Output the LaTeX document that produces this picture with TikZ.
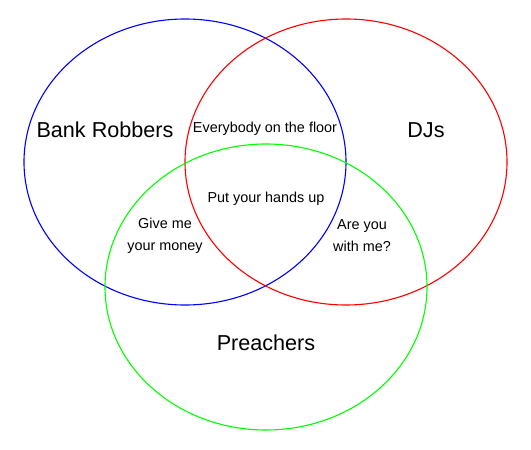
\documentclass[tikz,border=0pt]{standalone}
\usepackage{fontspec}
\setmainfont{Liberation Sans}
\begin{document}
\begin{tikzpicture}[x=1pt,y=-1pt,
  ring/.style={line width=1.1pt},
  biglabel/.style={font=\fontsize{21.6}{26}\selectfont, inner sep=0pt, anchor=center},
  smalllabel/.style={font=\fontsize{14.4}{22}\selectfont, inner sep=0pt, anchor=center, align=center}]
  \useasboundingbox (0,0) rectangle (531,450);
  % the three sets
  \draw[ring, blue] (185,162) ellipse [x radius=161, y radius=143];
  \draw[ring, red] (346,162) ellipse [x radius=161, y radius=143];
  \draw[ring, green] (266,287) ellipse [x radius=161, y radius=143];
  % set names
  \node[biglabel] (robbers) at (105,130) {Bank Robbers};
  \node[biglabel] (djs) at (426,130) {DJs};
  \node[biglabel] (preachers) at (266,343) {Preachers};
  % overlaps
  \node[smalllabel] (floor) at (265,129) {Everybody on the floor};
  \node[smalllabel] (hands) at (266,199) {Put your hands up};
  \node[smalllabel] (money) at (165,236) {Give me\\your money};
  \node[smalllabel] (withme) at (362,236) {Are you\\with me?};
\end{tikzpicture}
\end{document}
